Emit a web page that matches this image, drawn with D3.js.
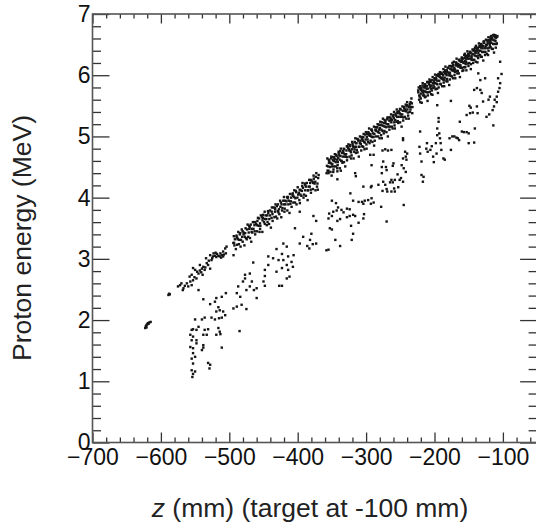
<!DOCTYPE html>
<html><head><meta charset="utf-8">
<script src="https://cdn.jsdelivr.net/npm/d3@7"></script>
<style>
html,body{margin:0;padding:0;background:#fff;}
svg{display:block;}
</style></head>
<body>
<svg id="chart" width="536" height="522"></svg>
<script>
// ---------- data (z in mm, proton energy in MeV) ----------
const xTicks = [-700,-600,-500,-400,-300,-200,-100];
const yTicks = [0,1,2,3,4,5,6,7];

// isolated cluster and first points of the main band
const clusterPoints = [[-623,1.87],[-622,1.90],[-621,1.92],[-620,1.93],[-619,1.95],[-617,1.96],[-615,1.97],[-618,1.94],[-621,1.88],[-589,2.41],[-587,2.42],[-588,2.43]];

// main band, segment A (z < -500)
const bandA = [[-575,2.55],[-572,2.57],[-567,2.52],[-565,2.56],[-568,2.49],[-560,2.55],[-555,2.57],[-557,2.63],[-553,2.65],[-555,2.74],[-548,2.68],[-545,2.76],[-543,2.90],[-540,2.84],[-538,2.87],[-536,2.82],[-539,2.74],[-533,2.93],[-531,2.90],[-528,2.84],[-526,2.98],[-528,3.06],[-523,3.09],[-521,3.05],[-518,3.08],[-514,3.04],[-511,3.06],[-509,3.12],[-506,3.17],[-504,3.20],[-505,3.09],[-545,2.49],[-553,2.85],[-558,2.71],[-550,2.82],[-543,2.81],[-534,3.01],[-524,3.04],[-516,3.05],[-520,3.10],[-513,3.09],[-509,3.04],[-570,2.60],[-562,2.60],[-551,2.70],[-547,2.79],[-541,2.78],[-535,2.86],[-530,2.97],[-525,3.01],[-519,3.03],[-512,3.02],[-508,3.07]];

// main band, segment B (-495 .. -369)
const bandB = [[-493.8,3.06],[-494.1,3.26],[-493.4,3.37],[-492.6,3.22],[-491.9,3.32],[-493.0,3.26],[-489.5,3.38],[-490.4,3.16],[-489.2,3.36],[-488.7,3.23],[-487.7,3.32],[-488.2,3.34],[-486.0,3.24],[-486.9,3.44],[-485.3,3.31],[-484.7,3.40],[-483.5,3.20],[-484.1,3.42],[-481.2,3.36],[-482.9,3.31],[-481.8,3.48],[-480.4,3.28],[-479.1,3.40],[-480.6,3.45],[-477.9,3.22],[-479.0,3.43],[-477.4,3.36],[-476.2,3.50],[-475.7,3.34],[-476.8,3.42],[-473.3,3.56],[-474.5,3.32],[-474.0,3.48],[-471.6,3.43],[-472.3,3.36],[-471.1,3.54],[-470.8,3.49],[-469.8,3.34],[-470.1,3.52],[-467.4,3.44],[-468.6,3.56],[-467.9,3.28],[-467.0,3.49],[-465.5,3.60],[-466.4,3.43],[-463.2,3.55],[-464.7,3.49],[-463.7,3.60],[-462.2,3.40],[-462.0,3.60],[-462.9,3.45],[-459.3,3.55],[-460.7,3.57],[-459.5,3.45],[-458.1,3.67],[-457.2,3.54],[-458.9,3.62],[-455.8,3.44],[-456.4,3.66],[-455.1,3.58],[-454.6,3.54],[-453.9,3.71],[-455.0,3.49],[-451.4,3.63],[-452.2,3.68],[-451.7,3.44],[-450.8,3.67],[-449.3,3.60],[-450.5,3.72],[-448.0,3.57],[-447.6,3.65],[-448.3,3.77],[-445.1,3.55],[-446.8,3.71],[-445.8,3.65],[-444.1,3.60],[-443.4,3.78],[-444.6,3.71],[-441.9,3.57],[-443.0,3.75],[-441.5,3.65],[-440.4,3.79],[-439.2,3.51],[-440.7,3.71],[-437.7,3.84],[-438.2,3.67],[-438.0,3.77],[-436.9,3.73],[-435.3,3.84],[-436.7,3.62],[-433.5,3.83],[-434.1,3.68],[-433.2,3.77],[-432.9,3.81],[-431.8,3.69],[-432.4,3.89],[-429.1,3.78],[-430.6,3.86],[-429.9,3.66],[-429.0,3.89],[-427.4,3.81],[-428.2,3.76],[-425.7,3.95],[-426.8,3.73],[-425.3,3.85],[-424.5,3.92],[-424.0,3.68],[-423.6,3.89],[-422.3,3.83],[-421.1,3.95],[-422.8,3.79],[-419.8,3.89],[-420.1,4.01],[-419.4,3.77],[-418.6,3.95],[-417.9,3.89],[-419.0,3.82],[-415.5,4.01],[-416.4,3.94],[-415.2,3.79],[-414.7,3.99],[-413.7,3.89],[-414.2,4.01],[-412.0,3.75],[-412.9,3.95],[-411.3,4.06],[-410.7,3.90],[-409.5,4.00],[-410.1,3.94],[-407.2,4.07],[-408.9,3.85],[-407.8,4.05],[-406.4,3.92],[-405.1,4.01],[-406.6,4.03],[-403.9,3.92],[-405.0,4.12],[-403.4,3.99],[-402.2,4.09],[-401.7,3.89],[-402.8,4.11],[-399.3,4.05],[-400.5,4.00],[-400.0,4.17],[-397.6,3.96],[-398.3,4.08],[-397.1,4.13],[-396.8,3.91],[-395.8,4.12],[-396.1,4.05],[-393.4,4.19],[-394.6,4.03],[-393.9,4.11],[-393.0,4.24],[-391.5,4.00],[-392.4,4.16],[-389.2,4.12],[-390.7,4.05],[-389.7,4.23],[-388.2,4.18],[-388.0,4.03],[-388.9,4.21],[-385.3,4.12],[-386.7,4.24],[-385.5,3.96],[-384.1,4.18],[-383.2,4.29],[-384.9,4.12],[-381.8,4.24],[-382.4,4.18],[-381.1,4.29],[-380.6,4.08],[-379.9,4.28],[-381.0,4.13],[-377.4,4.24],[-378.2,4.26],[-377.7,4.14],[-376.8,4.36],[-375.3,4.23],[-376.5,4.31],[-374.0,4.12],[-373.6,4.34],[-374.3,4.26],[-371.1,4.23],[-372.8,4.40],[-371.8,4.18],[-370.1,4.32],[-369.4,4.37],[-370.6,4.13]];

// main band, segment C (-358 .. -232)
const bandC = [[-356.4,4.44],[-357.2,4.52],[-356.7,4.64],[-357.8,4.40],[-354.3,4.57],[-355.5,4.51],[-355.0,4.44],[-354.6,4.62],[-353.3,4.57],[-352.1,4.42],[-353.8,4.60],[-352.8,4.50],[-351.1,4.64],[-350.4,4.36],[-351.6,4.56],[-350.9,4.67],[-350.0,4.51],[-348.5,4.61],[-349.4,4.55],[-348.2,4.66],[-347.7,4.46],[-346.7,4.66],[-347.2,4.51],[-347.0,4.60],[-345.9,4.63],[-344.3,4.51],[-345.7,4.71],[-344.5,4.58],[-343.1,4.68],[-342.2,4.48],[-343.9,4.70],[-342.8,4.62],[-341.4,4.58],[-340.1,4.75],[-341.6,4.53],[-340.9,4.65],[-340.0,4.72],[-338.4,4.48],[-339.2,4.69],[-338.7,4.62],[-337.8,4.76],[-336.3,4.60],[-337.5,4.68],[-337.0,4.80],[-334.6,4.57],[-335.3,4.73],[-334.1,4.67],[-335.8,4.60],[-332.8,4.80],[-333.1,4.73],[-332.4,4.58],[-333.6,4.76],[-330.9,4.67],[-332.0,4.79],[-330.5,4.51],[-331.4,4.71],[-328.2,4.84],[-329.7,4.67],[-328.7,4.77],[-329.2,4.71],[-327.0,4.83],[-327.9,4.61],[-326.3,4.81],[-327.7,4.66],[-324.5,4.77],[-325.1,4.79],[-324.2,4.67],[-325.9,4.87],[-322.8,4.76],[-323.4,4.84],[-322.1,4.64],[-323.6,4.86],[-320.9,4.79],[-322.0,4.74],[-320.4,4.91],[-321.2,4.69],[-318.7,4.83],[-319.8,4.88],[-318.3,4.64],[-319.5,4.85],[-317.0,4.79],[-316.6,4.91],[-317.3,4.75],[-316.1,4.83],[-315.8,4.97],[-314.8,4.73],[-315.1,4.89],[-314.4,4.83],[-313.6,4.78],[-312.9,4.96],[-314.0,4.89],[-312.5,4.74],[-311.4,4.93],[-310.2,4.83],[-311.7,4.95],[-310.7,4.67],[-309.2,4.89],[-309.0,5.00],[-309.9,4.83],[-308.3,4.93],[-307.7,4.88],[-306.5,4.99],[-307.1,4.77],[-306.2,4.97],[-305.9,4.84],[-304.8,4.93],[-305.4,4.95],[-304.1,4.83],[-303.6,5.04],[-302.9,4.91],[-304.0,4.99],[-302.4,4.79],[-301.2,5.03],[-300.7,4.95],[-301.8,4.90],[-300.3,5.07],[-299.5,4.87],[-299.0,4.99],[-298.6,5.04],[-299.3,4.80],[-296.1,5.02],[-297.8,4.95],[-296.8,5.07],[-297.1,4.91],[-294.4,5.01],[-295.6,5.13],[-294.9,4.89],[-296.0,5.05],[-292.5,5.00],[-293.4,4.93],[-292.2,5.11],[-293.7,5.04],[-290.7,4.91],[-291.2,5.09],[-291.0,4.99],[-291.9,5.11],[-288.3,4.85],[-289.7,5.05],[-288.5,5.16],[-289.1,4.99],[-286.2,5.10],[-287.9,5.04],[-286.8,5.15],[-287.4,4.93],[-284.1,5.15],[-285.6,5.00],[-284.9,5.09],[-286.0,5.11],[-282.4,5.00],[-283.2,5.20],[-282.7,5.07],[-283.8,5.15],[-280.3,4.97],[-281.5,5.19],[-281.0,5.11],[-280.6,5.06],[-279.3,5.24],[-278.1,5.02],[-279.8,5.14],[-278.8,5.19],[-277.1,4.97],[-276.4,5.18],[-277.6,5.11],[-276.9,5.23],[-276.0,5.09],[-274.5,5.17],[-275.4,5.29],[-274.2,5.05],[-273.7,5.22],[-272.7,5.16],[-273.2,5.09],[-273.0,5.27],[-271.9,5.22],[-270.3,5.07],[-271.7,5.25],[-270.5,5.15],[-269.1,5.28],[-268.2,5.00],[-269.9,5.20],[-268.8,5.31],[-267.4,5.16],[-266.1,5.26],[-267.6,5.20],[-266.9,5.31],[-266.0,5.11],[-264.4,5.31],[-265.2,5.16],[-264.7,5.25],[-263.8,5.28],[-262.3,5.16],[-263.5,5.36],[-263.0,5.23],[-260.6,5.33],[-261.3,5.13],[-260.1,5.35],[-261.8,5.27],[-258.8,5.23],[-259.1,5.40],[-258.4,5.18],[-259.6,5.30],[-256.9,5.37],[-258.0,5.13],[-256.5,5.34],[-257.4,5.27],[-254.2,5.40],[-255.7,5.24],[-254.7,5.32],[-255.2,5.44],[-253.0,5.22],[-253.9,5.38],[-252.3,5.32],[-253.7,5.25],[-250.5,5.45],[-251.1,5.38],[-250.2,5.23],[-251.9,5.41],[-248.8,5.32],[-249.4,5.44],[-248.1,5.16],[-249.6,5.36],[-246.9,5.49],[-248.0,5.32],[-246.4,5.42],[-247.2,5.36],[-244.7,5.48],[-245.8,5.26],[-244.3,5.46],[-245.5,5.31],[-243.0,5.42],[-242.6,5.44],[-243.3,5.32],[-242.1,5.52],[-241.8,5.41],[-240.8,5.49],[-241.1,5.29],[-240.4,5.51],[-239.6,5.44],[-238.9,5.39],[-240.0,5.56],[-238.5,5.34],[-237.4,5.48],[-236.2,5.53],[-237.7,5.29],[-236.7,5.50],[-235.2,5.44],[-235.0,5.56],[-235.9,5.40],[-234.3,5.48],[-233.7,5.62],[-232.5,5.38],[-233.1,5.54],[-232.2,5.48]];

// main band, segment D (-224 .. -108)
const bandD = [[-223.7,5.72],[-222.5,5.60],[-223.1,5.80],[-222.2,5.67],[-223.9,5.75],[-220.8,5.56],[-221.4,5.78],[-220.1,5.70],[-221.6,5.65],[-220.9,5.82],[-220.0,5.62],[-218.4,5.74],[-219.2,5.79],[-218.7,5.55],[-219.8,5.76],[-216.3,5.71],[-217.5,5.83],[-217.0,5.67],[-216.6,5.75],[-217.3,5.87],[-214.1,5.64],[-215.8,5.80],[-214.8,5.74],[-215.1,5.67],[-214.4,5.85],[-213.6,5.80],[-212.9,5.65],[-214.0,5.83],[-212.5,5.73],[-213.4,5.85],[-210.2,5.58],[-211.7,5.78],[-210.7,5.89],[-211.2,5.72],[-211.0,5.82],[-209.9,5.78],[-208.3,5.89],[-209.7,5.67],[-208.5,5.87],[-209.1,5.72],[-206.2,5.83],[-207.9,5.85],[-206.8,5.73],[-207.4,5.93],[-206.1,5.80],[-205.6,5.89],[-204.9,5.69],[-206.0,5.91],[-204.4,5.83],[-205.2,5.78],[-202.7,5.97],[-203.8,5.75],[-202.3,5.87],[-203.5,5.92],[-203.0,5.68],[-200.6,5.90],[-201.3,5.83],[-200.1,5.95],[-201.8,5.79],[-200.8,5.87],[-199.1,6.01],[-198.4,5.77],[-199.6,5.93],[-198.9,5.87],[-200.0,5.80],[-196.5,6.00],[-197.4,5.93],[-196.2,5.78],[-197.7,5.96],[-196.7,5.86],[-195.2,5.99],[-195.0,5.71],[-195.9,5.91],[-194.3,6.02],[-195.7,5.85],[-192.5,5.97],[-193.1,5.91],[-192.2,6.02],[-193.9,5.80],[-192.8,6.00],[-191.4,5.86],[-190.1,5.95],[-191.6,5.97],[-190.9,5.85],[-192.0,6.05],[-188.4,5.94],[-189.2,6.02],[-188.7,5.82],[-189.8,6.04],[-188.3,5.96],[-187.5,5.93],[-187.0,6.10],[-186.6,5.88],[-187.3,6.00],[-186.1,6.05],[-185.8,5.82],[-184.8,6.03],[-185.1,5.96],[-184.4,6.08],[-185.6,5.92],[-182.9,6.02],[-184.0,6.14],[-182.5,5.90],[-183.4,6.06],[-182.2,6.00],[-181.7,5.94],[-180.7,6.12],[-181.2,6.05],[-181.0,5.90],[-181.9,6.08],[-178.3,6.00],[-179.7,6.12],[-178.5,5.84],[-179.1,6.04],[-178.2,6.15],[-177.9,6.00],[-176.8,6.10],[-177.4,6.04],[-176.1,6.15],[-177.6,5.93],[-174.9,6.14],[-176.0,5.99],[-174.4,6.08],[-175.2,6.10],[-174.7,5.98],[-173.8,6.20],[-172.3,6.07],[-173.5,6.15],[-173.0,5.95],[-172.6,6.17],[-171.3,6.10],[-170.1,6.05],[-171.8,6.22],[-170.8,6.00],[-171.1,6.12],[-168.4,6.19],[-169.6,5.95],[-168.9,6.16],[-170.0,6.09],[-168.5,6.21],[-167.4,6.07],[-166.2,6.15],[-167.7,6.27],[-166.7,6.03],[-167.2,6.19],[-165.0,6.14],[-165.9,6.07],[-164.3,6.25],[-165.7,6.18],[-164.5,6.03],[-163.1,6.23],[-162.2,6.13],[-163.9,6.25],[-162.8,5.97],[-163.4,6.17],[-160.1,6.29],[-161.6,6.12],[-160.9,6.22],[-162.0,6.16],[-160.4,6.27],[-159.2,6.07],[-158.7,6.27],[-159.8,6.12],[-158.3,6.21],[-159.5,6.23],[-157.0,6.13],[-156.6,6.33],[-157.3,6.20],[-156.1,6.28],[-157.8,6.08],[-154.8,6.31],[-155.1,6.23],[-154.4,6.18],[-155.6,6.35],[-154.9,6.13],[-154.0,6.27],[-152.5,6.32],[-153.4,6.08],[-152.2,6.29],[-153.7,6.22],[-150.7,6.35],[-151.2,6.19],[-151.0,6.27],[-151.9,6.39],[-150.3,6.15],[-149.7,6.33],[-148.5,6.27],[-149.1,6.20],[-148.2,6.38],[-149.9,6.31],[-146.8,6.18],[-147.4,6.36],[-146.1,6.26],[-147.6,6.38],[-146.9,6.10],[-146.0,6.31],[-144.4,6.42],[-145.2,6.25],[-144.7,6.35],[-145.8,6.29],[-142.3,6.42],[-143.5,6.20],[-143.0,6.40],[-142.6,6.25],[-143.3,6.34],[-140.1,6.37],[-141.8,6.25],[-140.8,6.45],[-141.1,6.32],[-140.4,6.40],[-139.6,6.22],[-138.9,6.44],[-140.0,6.36],[-138.5,6.31],[-139.4,6.48],[-136.2,6.28],[-137.7,6.40],[-136.7,6.45],[-137.2,6.21],[-137.0,6.42],[-135.9,6.36],[-134.3,6.48],[-135.7,6.32],[-134.5,6.40],[-135.1,6.52],[-132.2,6.30],[-133.9,6.46],[-132.8,6.40],[-133.4,6.33],[-132.1,6.51],[-131.6,6.45],[-130.9,6.30],[-132.0,6.48],[-130.4,6.38],[-131.2,6.50],[-128.7,6.24],[-129.8,6.44],[-128.3,6.55],[-129.5,6.38],[-129.0,6.48],[-126.6,6.44],[-127.3,6.55],[-126.1,6.33],[-127.8,6.53],[-126.8,6.38],[-125.1,6.48],[-124.4,6.50],[-125.6,6.38],[-124.9,6.58],[-126.0,6.45],[-122.5,6.55],[-123.4,6.35],[-122.2,6.57],[-123.7,6.49],[-122.7,6.44],[-121.2,6.62],[-121.0,6.40],[-121.9,6.52],[-120.3,6.57],[-121.7,6.33],[-118.5,6.56],[-119.1,6.49],[-118.2,6.61],[-119.9,6.45],[-118.8,6.53],[-117.4,6.64],[-116.1,6.43],[-117.6,6.59],[-116.9,6.53],[-118.0,6.46],[-114.4,6.65],[-115.2,6.58],[-114.7,6.43],[-115.8,6.61],[-114.3,6.51],[-113.5,6.65],[-113.0,6.37],[-112.6,6.57],[-113.3,6.66],[-112.1,6.51],[-111.8,6.62],[-110.8,6.56],[-111.1,6.65],[-110.4,6.45],[-111.6,6.65],[-108.9,6.52],[-110.0,6.61],[-108.5,6.63],[-109.4,6.51],[-108.2,6.64]];

// lower, sparse population
const lowerPoints = [[-505,2.44],[-511,2.38],[-519,2.36],[-538,2.34],[-528,2.26],[-521,2.30],[-516,2.21],[-494,2.19],[-489,2.22],[-482,2.25],[-475,2.18],[-519,2.14],[-514,2.16],[-509,2.14],[-506,2.08],[-511,2.04],[-515,2.03],[-521,2.01],[-526,2.04],[-536,2.04],[-540,2.01],[-550,2.01],[-553,1.85],[-548,1.84],[-555,1.84],[-536,1.84],[-531,1.85],[-538,1.76],[-533,1.76],[-516,1.87],[-514,1.81],[-519,1.76],[-513,1.77],[-485,1.82],[-553,1.73],[-548,1.67],[-555,1.67],[-548,1.62],[-553,1.54],[-538,1.59],[-538,1.55],[-540,1.51],[-511,1.55],[-553,1.46],[-550,1.40],[-555,1.37],[-553,1.29],[-555,1.18],[-553,1.12],[-554,1.07],[-550,1.16],[-531,1.30],[-528,1.27],[-529,1.21],[-557,1.76],[-557,1.56],[-545,1.89],[-465,2.94],
[-487,2.55],[-489,2.44],[-484,2.38],[-460,2.36],[-464,2.49],[-460,2.52],[-477,2.74],[-477,2.68],[-480,2.63],[-470,2.76],[-467,2.63],[-470,2.55],[-475,2.49],
[-421,3.25],[-431,3.16],[-416,3.20],[-423,3.08],[-443,3.04],[-436,3.01],[-428,2.98],[-421,2.98],[-414,3.04],[-406,3.06],[-409,2.95],[-416,2.90],[-423,2.85],[-431,2.79],[-407,2.87],[-414,2.82],[-416,2.68],[-412,2.71],[-443,2.90],[-448,2.82],[-448,2.72],[-450,2.63],[-448,2.56],[-423,2.56],[-427,2.56],[-404,3.50],[-397,3.77],
[-392,3.36],[-380,3.41],[-382,3.31],[-378,3.24],[-373,3.25],[-386,3.21],[-383,3.17],[-355,3.15],[-358,3.14],[-345,3.31],[-338,3.21],[-321,3.31],[-319,3.41],[-350,3.48],[-353,3.50],[-377,3.70],[-373,3.62],[-397,3.25],
[-344,3.91],[-341,3.84],[-343,3.79],[-348,3.77],[-336,3.80],[-333,3.76],[-328,3.82],[-324,3.81],[-354,3.74],[-350,3.70],[-355,3.66],[-338,3.65],[-342,3.62],[-328,3.68],[-324,3.70],[-319,3.72],[-316,3.70],[-350,3.95],
[-323,4.07],[-319,3.95],[-311,3.93],[-306,3.93],[-302,3.95],[-297,3.96],[-292,3.99],[-289,3.92],[-304,3.90],[-293,3.90],[-322,3.54],[-311,3.59],[-304,3.66],[-303,3.73],[-278,3.85],[-270,3.61],[-316,4.40],[-315,4.35],[-304,4.18],[-292,4.19],[-293,4.17],[-292,4.53],[-294,4.70],[-289,4.70],
[-277,4.40],[-270,4.45],[-275,4.26],[-282,4.21],[-272,4.21],[-276,4.11],[-269,4.10],[-270,4.14],[-265,4.25],[-263,4.29],[-261,4.25],[-258,4.29],[-251,4.29],[-259,4.15],[-263,4.10],[-254,4.38],[-260,4.56],[-261,4.52],[-271,4.50],[-277,4.50],[-258,4.10],[-253,4.17],
[-276,4.77],[-272,4.79],[-268,4.77],[-263,4.78],[-275,4.59],[-355,4.40],[-348,4.42],[-342,4.43],[-337,4.44],[-342,4.30],
[-246,4.97],[-246,4.94],[-243,4.75],[-240,4.72],[-242,4.67],[-246,4.64],[-241,4.62],[-248,4.53],[-245,4.48],[-242,4.42],[-249,4.32],[-246,4.26],[-245,3.88],[-219,4.37],[-216,4.34],[-217,4.26],[-221,5.08],[-222,4.83],[-221,4.72],[-219,4.59],[-211,4.89],[-212,4.80],[-210,4.75],[-206,4.78],[-204,4.84],
[-202,4.67],[-201,4.58],[-197,4.72],[-198,4.89],[-196,5.02],[-193,5.05],[-196,5.13],[-194,5.24],[-192,4.97],[-191,4.89],[-190,4.78],[-187,4.64],[-185,4.62],
[-178,4.97],[-174,5.00],[-171,5.00],[-168,4.98],[-166,4.97],[-164,4.94],[-176,4.78],[-163,5.24],[-160,5.08],[-157,5.07],[-153,5.07],[-150,5.05],[-150,4.89],[-142,4.90],[-141,5.13],
[-196,5.51],[-194,5.30],[-176,5.58],[-149,5.50],[-147,5.47],[-144,5.39],[-148,5.38],[-153,5.35],[-138,5.49],[-137,5.38],[-142,5.76],[-138,5.79],[-133,5.76],[-131,5.71],[-136,6.03],[-133,5.92],[-126,5.95],
[-129,5.57],[-121,5.60],[-119,5.65],[-124,5.32],[-120,5.36],[-115,5.43],[-113,5.49],[-114,5.18],[-112,5.60],[-109,5.65],[-107,5.73],[-105,5.79],[-104,5.87],[-107,5.95],[-102,6.02],[-104,6.22],[-109,5.56]];

// ---------- drawing ----------
(function () {
const svg = d3.select("#chart");
const pLeft = 92.5, pRight = 537.1, pTop = 14, pBottom = 442.5;
const x = d3.scaleLinear().domain([-700,-50]).range([pLeft,pRight]);
const y = d3.scaleLinear().domain([0,7]).range([pBottom,pTop]);

const font = "'Liberation Sans', Arial, Helvetica, sans-serif";
const tickColor = "#333";
const dot = 2.4;

const allPoints = [].concat(clusterPoints, bandA, bandB, bandC, bandD, lowerPoints);
svg.append("g").selectAll("rect").data(allPoints).join("rect")
  .attr("x", d => x(d[0]) - dot / 2)
  .attr("y", d => y(d[1]) - dot / 2)
  .attr("width", dot).attr("height", dot)
  .attr("fill", "#151515");

const xMinor = d3.range(-700, -40, 20).filter(v => v % 100 !== 0);
const yMinor = d3.range(0, 7.01, 0.2).map(v => +v.toFixed(1)).filter(v => Math.abs(v - Math.round(v)) > 1e-6);

function styleAxis(g) {
  g.select(".domain").remove();
  g.selectAll(".tick line").attr("stroke", tickColor).attr("stroke-width", 1.3);
}

svg.append("g").attr("transform", `translate(0,${pBottom})`)
  .call(d3.axisBottom(x).tickValues(xTicks).tickSizeInner(-10).tickSizeOuter(0).tickPadding(6))
  .call(styleAxis)
  .call(g => g.selectAll("text").attr("font-family", font).attr("font-size", 23).attr("fill", "#111"));
svg.append("g").attr("transform", `translate(0,${pBottom})`)
  .call(d3.axisBottom(x).tickValues(xMinor).tickSizeInner(-5).tickSizeOuter(0).tickFormat(""))
  .call(styleAxis);
svg.append("g").attr("transform", `translate(0,${pTop})`)
  .call(d3.axisTop(x).tickValues(xTicks).tickSizeInner(-9.5).tickSizeOuter(0).tickFormat(""))
  .call(styleAxis);
svg.append("g").attr("transform", `translate(0,${pTop})`)
  .call(d3.axisTop(x).tickValues(xMinor).tickSizeInner(-4.5).tickSizeOuter(0).tickFormat(""))
  .call(styleAxis);
svg.append("g").attr("transform", `translate(${pLeft},0)`)
  .call(d3.axisLeft(y).tickValues(yTicks).tickSizeInner(-17).tickSizeOuter(0).tickPadding(2).tickFormat(d3.format("d")))
  .call(styleAxis)
  .call(g => g.selectAll("text").attr("font-family", font).attr("font-size", 23).attr("fill", "#111"));
svg.append("g").attr("transform", `translate(${pLeft},0)`)
  .call(d3.axisLeft(y).tickValues(yMinor).tickSizeInner(-8.5).tickSizeOuter(0).tickFormat(""))
  .call(styleAxis);
svg.append("g").attr("transform", `translate(${pRight},0)`)
  .call(d3.axisRight(y).tickValues(yTicks).tickSizeInner(-17).tickSizeOuter(0).tickFormat(""))
  .call(styleAxis);
svg.append("g").attr("transform", `translate(${pRight},0)`)
  .call(d3.axisRight(y).tickValues(yMinor).tickSizeInner(-8.5).tickSizeOuter(0).tickFormat(""))
  .call(styleAxis);

svg.append("rect").attr("x", pLeft).attr("y", pTop)
  .attr("width", pRight - pLeft).attr("height", pBottom - pTop)
  .attr("fill", "none").attr("stroke", "#555").attr("stroke-width", 1.6);

const xt = svg.append("text").attr("x", 310).attr("y", 517)
  .attr("text-anchor", "middle").attr("font-family", font).attr("font-size", 26.5).attr("fill", "#222");
xt.append("tspan").attr("font-style", "italic").text("z");
xt.append("tspan").text(" (mm) (target at -100 mm)");

svg.append("text").attr("transform", "rotate(-90)")
  .attr("x", -238).attr("y", 31)
  .attr("text-anchor", "middle").attr("font-family", font).attr("font-size", 26.5).attr("fill", "#222")
  .text("Proton energy (MeV)");
})();
</script>
</body></html>
